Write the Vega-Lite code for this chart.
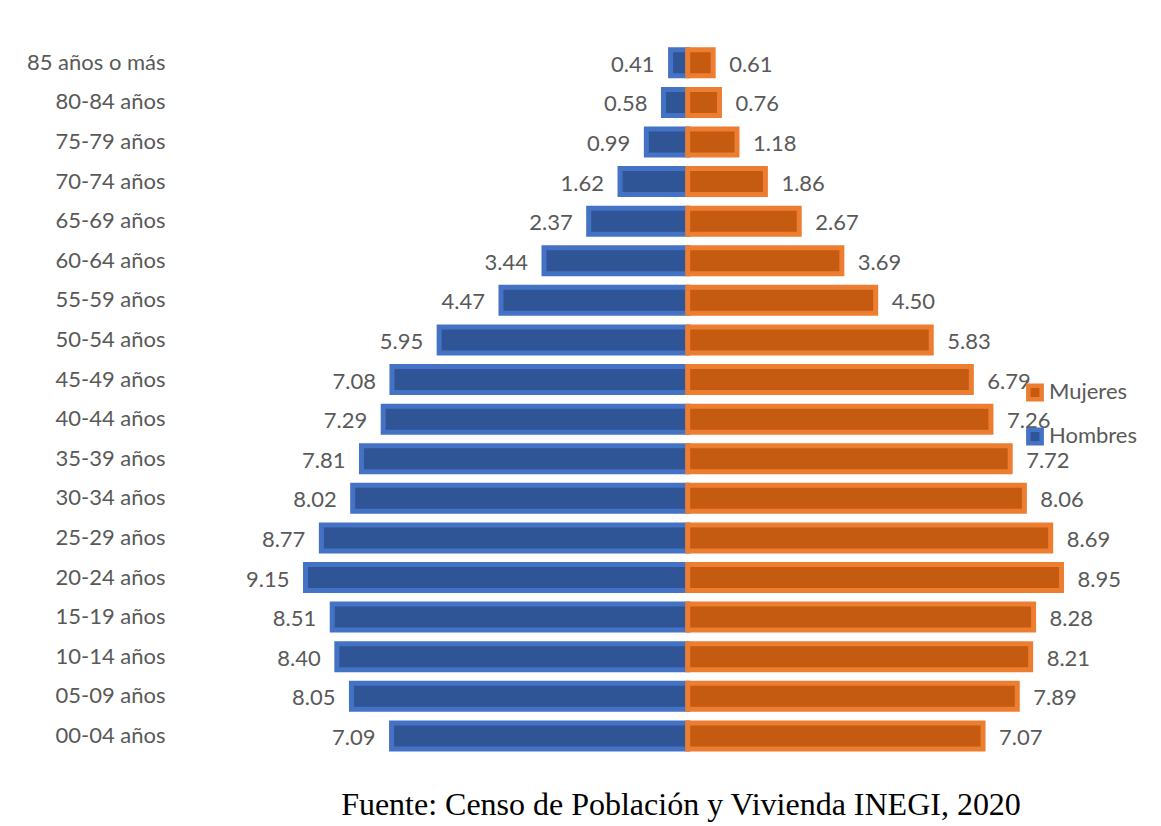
{
  "$schema": "https://vega.github.io/schema/vega-lite/v6.json",
  "autosize": "none",
  "width": 965,
  "height": 712.7,
  "padding": {"left": 175, "top": 43, "right": 21, "bottom": 70},
  "background": "white",
  "config": {"view": {"stroke": null}},
  "title": {
    "text": "Fuente: Censo de Población y Vivienda INEGI, 2020",
    "orient": "bottom",
    "anchor": "middle",
    "frame": "group",
    "baseline": "alphabetic",
    "offset": 59,
    "dx": 23.5,
    "font": "Liberation Serif",
    "fontSize": 32,
    "fontWeight": "normal",
    "color": "#000000"
  },
  "data": {
    "values": [
      {"age": "85 años o más", "sex": "Hombres", "value": 0.41},
      {"age": "80-84 años", "sex": "Hombres", "value": 0.58},
      {"age": "75-79 años", "sex": "Hombres", "value": 0.99},
      {"age": "70-74 años", "sex": "Hombres", "value": 1.62},
      {"age": "65-69 años", "sex": "Hombres", "value": 2.37},
      {"age": "60-64 años", "sex": "Hombres", "value": 3.44},
      {"age": "55-59 años", "sex": "Hombres", "value": 4.47},
      {"age": "50-54 años", "sex": "Hombres", "value": 5.95},
      {"age": "45-49 años", "sex": "Hombres", "value": 7.08},
      {"age": "40-44 años", "sex": "Hombres", "value": 7.29},
      {"age": "35-39 años", "sex": "Hombres", "value": 7.81},
      {"age": "30-34 años", "sex": "Hombres", "value": 8.02},
      {"age": "25-29 años", "sex": "Hombres", "value": 8.77},
      {"age": "20-24 años", "sex": "Hombres", "value": 9.15},
      {"age": "15-19 años", "sex": "Hombres", "value": 8.51},
      {"age": "10-14 años", "sex": "Hombres", "value": 8.40},
      {"age": "05-09 años", "sex": "Hombres", "value": 8.05},
      {"age": "00-04 años", "sex": "Hombres", "value": 7.09},
      {"age": "85 años o más", "sex": "Mujeres", "value": 0.61},
      {"age": "80-84 años", "sex": "Mujeres", "value": 0.76},
      {"age": "75-79 años", "sex": "Mujeres", "value": 1.18},
      {"age": "70-74 años", "sex": "Mujeres", "value": 1.86},
      {"age": "65-69 años", "sex": "Mujeres", "value": 2.67},
      {"age": "60-64 años", "sex": "Mujeres", "value": 3.69},
      {"age": "55-59 años", "sex": "Mujeres", "value": 4.50},
      {"age": "50-54 años", "sex": "Mujeres", "value": 5.83},
      {"age": "45-49 años", "sex": "Mujeres", "value": 6.79},
      {"age": "40-44 años", "sex": "Mujeres", "value": 7.26},
      {"age": "35-39 años", "sex": "Mujeres", "value": 7.72},
      {"age": "30-34 años", "sex": "Mujeres", "value": 8.06},
      {"age": "25-29 años", "sex": "Mujeres", "value": 8.69},
      {"age": "20-24 años", "sex": "Mujeres", "value": 8.95},
      {"age": "15-19 años", "sex": "Mujeres", "value": 8.28},
      {"age": "10-14 años", "sex": "Mujeres", "value": 8.21},
      {"age": "05-09 años", "sex": "Mujeres", "value": 7.89},
      {"age": "00-04 años", "sex": "Mujeres", "value": 7.07}
    ]
  },
  "transform": [
    {"calculate": "datum.sex == 'Hombres' ? -datum.value : datum.value", "as": "signed"}
  ],
  "encoding": {
    "y": {
      "field": "age",
      "type": "nominal",
      "sort": ["85 años o más", "80-84 años", "75-79 años", "70-74 años", "65-69 años", "60-64 años", "55-59 años", "50-54 años", "45-49 años", "40-44 años", "35-39 años", "30-34 años", "25-29 años", "20-24 años", "15-19 años", "10-14 años", "05-09 años", "00-04 años"],
      "scale": {"paddingInner": 0.343, "paddingOuter": 0.1715},
      "axis": {
        "title": null,
        "domain": false,
        "ticks": false,
        "labelPadding": 10,
        "labelFont": "Lato",
        "labelFontSize": 22,
        "labelColor": "#595959"
      }
    },
    "x": {
      "field": "signed",
      "type": "quantitative",
      "scale": {"domain": [-12.274, 10.828], "nice": false, "zero": false},
      "axis": null
    }
  },
  "layer": [
    {
      "mark": {"type": "bar", "strokeWidth": 5},
      "encoding": {
        "fill": {
          "field": "sex",
          "type": "nominal",
          "scale": {"domain": ["Mujeres", "Hombres"], "range": ["#C55A11", "#2F5597"]},
          "legend": {
            "title": null,
            "orient": "none",
            "legendX": 849,
            "legendY": 338.5,
            "padding": 0,
            "symbolType": "square",
            "symbolSize": 177,
            "symbolStrokeWidth": 4.5,
            "labelFont": "Lato",
            "labelFontSize": 22,
            "labelColor": "#595959",
            "labelOffset": 3,
            "rowPadding": 12
          }
        },
        "stroke": {
          "field": "sex",
          "type": "nominal",
          "scale": {"domain": ["Mujeres", "Hombres"], "range": ["#ED7D31", "#4472C4"]},
          "legend": {
            "title": null,
            "orient": "none",
            "legendX": 849,
            "legendY": 338.5,
            "padding": 0,
            "symbolType": "square",
            "symbolSize": 177,
            "symbolStrokeWidth": 4.5,
            "labelFont": "Lato",
            "labelFontSize": 22,
            "labelColor": "#595959",
            "labelOffset": 3,
            "rowPadding": 12
          }
        }
      }
    },
    {
      "transform": [{"filter": "datum.sex == 'Hombres'"}],
      "mark": {"type": "text", "align": "right", "baseline": "middle", "dx": -16, "dy": 2, "font": "Lato", "fontSize": 22, "color": "#595959"},
      "encoding": {"text": {"field": "value", "type": "quantitative", "format": ".2f"}}
    },
    {
      "transform": [{"filter": "datum.sex == 'Mujeres'"}],
      "mark": {"type": "text", "align": "left", "baseline": "middle", "dx": 16, "dy": 2, "font": "Lato", "fontSize": 22, "color": "#595959"},
      "encoding": {"text": {"field": "value", "type": "quantitative", "format": ".2f"}}
    }
  ]
}
